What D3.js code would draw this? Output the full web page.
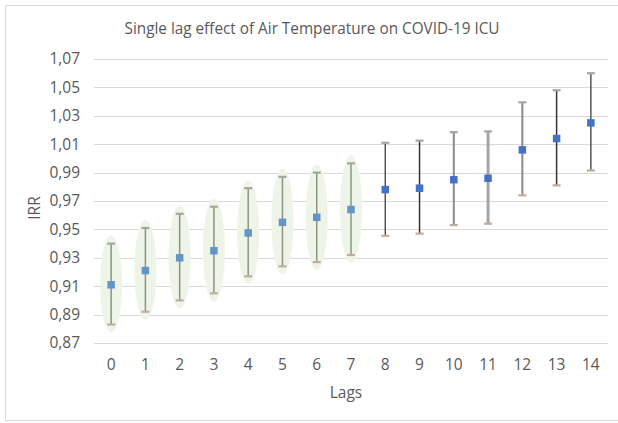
<!DOCTYPE html>
<html>
<head>
<meta charset="utf-8">
<script src="https://cdn.jsdelivr.net/npm/d3@7"></script>
<style>
  html, body { margin: 0; padding: 0; background: #fff; }
  svg { display: block; font-family: "Open Sans", "Noto Sans", sans-serif; }
</style>
</head>
<body>
<svg id="chart" width="618" height="423"></svg>
<script>
const lags   = [0, 1, 2, 3, 4, 5, 6, 7, 8, 9, 10, 11, 12, 13, 14];
const irr    = [0.911, 0.921, 0.930, 0.935, 0.9475, 0.955, 0.9585, 0.964, 0.978, 0.979, 0.985, 0.986, 1.006, 1.014, 1.025];
const upper  = [0.940, 0.951, 0.961, 0.966, 0.979, 0.987, 0.990, 0.9965, 1.011, 1.0125, 1.0185, 1.019, 1.0395, 1.048, 1.060];
const lower  = [0.883, 0.892, 0.900, 0.905, 0.917, 0.924, 0.927, 0.932, 0.9455, 0.947, 0.953, 0.954, 0.974, 0.981, 0.9915];
const highlighted = [true, true, true, true, true, true, true, true, false, false, false, false, false, false, false];
const yTicks = [0.87, 0.89, 0.91, 0.93, 0.95, 0.97, 0.99, 1.01, 1.03, 1.05, 1.07];
const barColors = ["#8a9580", "#8a9580", "#8a9580", "#8a9580", "#8a9580", "#8a9580", "#8a9580", "#8a9580",
                   "#555555", "#333333", "#8c8c8c", "#a6a6a6", "#8c8c8c", "#333333", "#555555"];
const barWidths = [1.5, 1.5, 1.5, 1.5, 1.5, 1.5, 1.5, 1.5, 1.5, 1.5, 2, 3, 2, 1.5, 1.5];

const title = "Single lag effect of Air Temperature on COVID-19 ICU";

const svg = d3.select("#chart");
const plot = { left: 94, right: 608, top: 59, bottom: 343 };

// outer border
svg.append("rect").attr("x", 5.5).attr("y", 5.5).attr("width", 620).attr("height", 415)
  .attr("fill", "#fff").attr("stroke", "#d9d9d9").attr("stroke-width", 1);

const x = d3.scaleBand().domain(lags).range([plot.left, plot.right]).padding(0);
const y = d3.scaleLinear().domain([0.87, 1.07]).range([plot.bottom, plot.top]);
const cx = d => x(d) + x.bandwidth() / 2;

// gridlines
svg.append("g").selectAll("line").data(yTicks).join("line")
  .attr("x1", plot.left).attr("x2", plot.right)
  .attr("y1", d => Math.round(y(d)) + 0.5).attr("y2", d => Math.round(y(d)) + 0.5)
  .attr("stroke", "#d9d9d9").attr("stroke-width", 1.2);

// y axis labels
const yAxis = d3.axisLeft(y).tickValues(yTicks).tickSize(0).tickPadding(14)
  .tickFormat(d => d3.format(".2f")(d).replace(".", ","));
const gy = svg.append("g").attr("transform", `translate(${plot.left},0)`).call(yAxis);
gy.select(".domain").remove();
gy.selectAll("text").attr("fill", "#595959").style("font-size", "15.5px")
  .style("font-family", "'Open Sans', sans-serif");

// x axis labels
const xAxis = d3.axisBottom(x).tickSize(0).tickPadding(16);
const gx = svg.append("g").attr("transform", `translate(0,${plot.bottom})`).call(xAxis);
gx.select(".domain").remove();
gx.selectAll("text").attr("fill", "#595959").style("font-size", "15.5px")
  .style("font-family", "'Open Sans', sans-serif");

const idx = d3.range(lags.length);

// ellipses
svg.append("g").selectAll("ellipse").data(idx.filter(i => highlighted[i])).join("ellipse")
  .attr("cx", i => cx(lags[i]))
  .attr("cy", i => (y(upper[i]) + y(lower[i])) / 2)
  .attr("rx", 11)
  .attr("ry", i => (y(lower[i]) - y(upper[i])) / 2 + 8)
  .attr("fill", "#eef5e8");

// error bars
const eb = svg.append("g");
eb.selectAll("line.bar").data(idx).join("line").attr("class", "bar")
  .attr("x1", i => cx(lags[i])).attr("x2", i => cx(lags[i]))
  .attr("y1", i => y(upper[i])).attr("y2", i => y(lower[i]))
  .attr("stroke", i => barColors[i]).attr("stroke-width", i => barWidths[i]);
eb.selectAll("line.cap-top").data(idx).join("line").attr("class", "cap-top")
  .attr("x1", i => cx(lags[i]) - 4).attr("x2", i => cx(lags[i]) + 4)
  .attr("y1", i => y(upper[i])).attr("y2", i => y(upper[i]))
  .attr("stroke", i => highlighted[i] ? "#a3a79c" : "#a6a6a6").attr("stroke-width", 2.2);
eb.selectAll("line.cap-bot").data(idx).join("line").attr("class", "cap-bot")
  .attr("x1", i => cx(lags[i]) - 4).attr("x2", i => cx(lags[i]) + 4)
  .attr("y1", i => y(lower[i])).attr("y2", i => y(lower[i]))
  .attr("stroke", "#bfae9e").attr("stroke-width", 2.2);

// markers
const ms = 7.5;
svg.append("g").selectAll("rect").data(idx).join("rect")
  .attr("x", i => cx(lags[i]) - ms / 2)
  .attr("y", i => y(irr[i]) - ms / 2)
  .attr("width", ms).attr("height", ms)
  .attr("fill", i => highlighted[i] ? "#6495c8" : "#4472c4");

// title
svg.append("text").attr("x", 312).attr("y", 34).attr("text-anchor", "middle")
  .attr("fill", "#595959").style("font-size", "15.5px")
  .attr("textLength", 375).attr("lengthAdjust", "spacingAndGlyphs")
  .text(title);

// axis titles
svg.append("text").attr("x", 346).attr("y", 398).attr("text-anchor", "middle")
  .attr("fill", "#595959").style("font-size", "15.5px").text("Lags");
svg.append("text").attr("transform", "translate(40,208) rotate(-90)").attr("text-anchor", "middle")
  .attr("fill", "#595959").style("font-size", "15.5px").text("IRR");
</script>
</body>
</html>
